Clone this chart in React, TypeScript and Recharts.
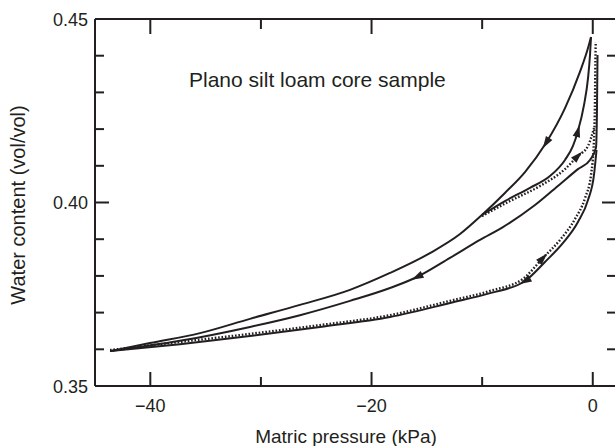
import React from "react";
import { LineChart, Line, XAxis, YAxis } from "recharts";

type Pt = [number, number]; // [matric pressure kPa, water content vol/vol]

// measured curves (solid)
const mainDrying: Pt[] = [
  [-43.64, 0.3595], [-40.03, 0.3617], [-35.51, 0.3644], [-30.99, 0.3683],
  [-26.47, 0.3721], [-21.95, 0.3762], [-18.33, 0.3808], [-14.72, 0.3862],
  [-12.0, 0.3914], [-10.02, 0.3966], [-7.94, 0.4026], [-6.13, 0.4083],
  [-4.23, 0.4162], [-2.51, 0.4257], [-1.16, 0.4356], [-0.43, 0.4421],
  [-0.16, 0.4451],
];
const scanWetting: Pt[] = [
  [-10.02, 0.3966], [-7.94, 0.4004], [-5.68, 0.404], [-3.87, 0.4072],
  [-2.51, 0.4116], [-1.79, 0.4154], [-1.34, 0.4195], [-0.79, 0.4266],
  [-0.43, 0.4339], [-0.25, 0.4402], [-0.16, 0.4451],
];
const scanDrying: Pt[] = [
  [-43.64, 0.3595], [-37.32, 0.3623], [-30.99, 0.3661], [-26.47, 0.3693],
  [-21.95, 0.3732], [-18.33, 0.3767], [-15.89, 0.3797], [-12.91, 0.3849],
  [-10.2, 0.3898], [-8.12, 0.3933], [-5.22, 0.3993], [-2.96, 0.405],
  [-1.34, 0.4091], [-0.25, 0.4116], [0.29, 0.4149], [0.38, 0.4252],
  [0.43, 0.4402],
];
const mainWetting: Pt[] = [
  [-43.64, 0.3595], [-37.32, 0.3614], [-30.99, 0.3636], [-24.66, 0.3661],
  [-18.33, 0.3688], [-12.91, 0.3726], [-9.29, 0.3753], [-6.13, 0.3786],
  [-4.32, 0.3838], [-2.69, 0.389], [-1.34, 0.3947], [-0.43, 0.4007],
  [0.11, 0.4075], [0.34, 0.4143],
];

// predicted curves (dotted)
const predScanWetting: Pt[] = [
  [-10.02, 0.3963], [-7.48, 0.4004], [-4.77, 0.4045], [-2.51, 0.4091],
  [-1.34, 0.4127], [-0.43, 0.4154], [0.11, 0.4203],
];
const predMainWetting: Pt[] = [
  [-43.64, 0.3598], [-37.32, 0.362], [-30.99, 0.3642], [-24.66, 0.3666],
  [-18.33, 0.3693], [-12.91, 0.3732], [-9.29, 0.3759], [-6.31, 0.3792],
  [-4.5, 0.3849], [-2.96, 0.3898], [-1.61, 0.3955], [-0.7, 0.4012],
  [-0.16, 0.4075], [0.11, 0.417], [0.2, 0.4279], [0.24, 0.4388], [0.27, 0.4437],
];

const xTicks = [-40, -30, -20, -10, 0];
const yTicks = [0.35, 0.36, 0.37, 0.38, 0.39, 0.4, 0.41, 0.42, 0.43, 0.44, 0.45];

const X_DOMAIN: [number, number] = [-45, 2.1];
const Y_DOMAIN: [number, number] = [0.35, 0.45];

const INK = "#231f20";
const FONT = "'Liberation Sans', Arial, Helvetica, sans-serif";
const W = 620;
const H = 446;
const LEFT_W = 95;
const BOTTOM_H = 60;
const MARGIN = { top: 18, right: 3, bottom: 0, left: 0 };
// plot area: left 95 .. right 616, top 19 .. bottom 386
const kx = (W - LEFT_W - 1 - MARGIN.right) / (X_DOMAIN[1] - X_DOMAIN[0]);
const ky = (H - MARGIN.top - 1 - BOTTOM_H) / (Y_DOMAIN[1] - Y_DOMAIN[0]);

const rows = (pts: Pt[]) => pts.map(([p, w]) => ({ p, w }));
const fmtX = (v: number) => (v < 0 ? `\u2212${Math.abs(v)}` : `${v}`);
const isMajorX = (v: number) => Math.round(v) % 20 === 0;
const isMajorY = (v: number) => Math.round(v * 100) % 5 === 0;

// arrowhead at point `at`, pointing forward (dir 1) or backward (dir -1) along the curve
function arrowDot(curve: Pt[], at: number, dir: number) {
  return (props: any) => {
    const { cx, cy, index } = props;
    if (index !== at) return <g key={`n-${index}`} />;
    const a = curve[Math.max(0, at - 1)];
    const b = curve[Math.min(curve.length - 1, at + 1)];
    const dx = (b[0] - a[0]) * kx * dir;
    const dy = -(b[1] - a[1]) * ky * dir;
    const ang = (Math.atan2(dy, dx) * 180) / Math.PI;
    return (
      <polygon
        key={`a-${index}`}
        points="6,0 -6,-3.8 -6,3.8"
        transform={`translate(${cx},${cy}) rotate(${ang})`}
        fill={INK}
      />
    );
  };
}

function BottomTick(props: any) {
  const { x, y, payload } = props;
  const v = payload.value;
  const major = isMajorX(v);
  return (
    <g>
      <line x1={x} x2={x} y1={y} y2={y - (major ? 14 : 9)} stroke={INK} strokeWidth={2} />
      {major && (
        <text x={x} y={y + 26} textAnchor="middle" fontSize={18} fill={INK} fontFamily={FONT}>
          {fmtX(v)}
        </text>
      )}
    </g>
  );
}

function TopTick(props: any) {
  const { x, y, payload } = props;
  const major = isMajorX(payload.value);
  return <line x1={x} x2={x} y1={y} y2={y + (major ? 15 : 10)} stroke={INK} strokeWidth={2} />;
}

function LeftTick(props: any) {
  const { x, y, payload } = props;
  const v = payload.value;
  const major = isMajorY(v);
  return (
    <g>
      <line x1={x} x2={x + (major ? 14 : 9)} y1={y} y2={y} stroke={INK} strokeWidth={2} />
      {major && (
        <text x={x - 7} y={y + 6.5} textAnchor="end" fontSize={18} fill={INK} fontFamily={FONT}>
          {v.toFixed(2)}
        </text>
      )}
    </g>
  );
}

function RightTick(props: any) {
  const { x, y, payload } = props;
  const major = isMajorY(payload.value);
  return <line x1={x} x2={x - (major ? 14 : 9)} y1={y} y2={y} stroke={INK} strokeWidth={2} />;
}

export default function App() {
  const solid = { stroke: INK, strokeWidth: 2, isAnimationActive: false, type: "monotone" as const };
  const dotted = { ...solid, strokeWidth: 2.4, strokeDasharray: "1.6 1.8" };
  const axisCommon = {
    type: "number" as const,
    allowDataOverflow: true,
    interval: 0 as const,
    tickSize: 0,
    tickMargin: 0,
    tickLine: false,
    axisLine: { stroke: INK, strokeWidth: 2 },
  };
  return (
    <div
      style={{
        position: "absolute",
        left: 0,
        top: 0,
        width: 615,
        height: 446,
        overflow: "hidden",
        background: "#fff",
      }}
    >
      <LineChart width={W} height={H} margin={MARGIN}>
        <XAxis {...axisCommon} dataKey="p" domain={X_DOMAIN} ticks={xTicks} height={BOTTOM_H} tick={<BottomTick />} />
        <XAxis
          {...axisCommon}
          xAxisId="top"
          orientation="top"
          dataKey="p"
          domain={X_DOMAIN}
          ticks={xTicks}
          height={1}
          tick={<TopTick />}
        />
        <YAxis {...axisCommon} domain={Y_DOMAIN} ticks={yTicks} width={LEFT_W} tick={<LeftTick />} />
        <YAxis
          {...axisCommon}
          yAxisId="right"
          orientation="right"
          domain={Y_DOMAIN}
          ticks={yTicks}
          width={1}
          tick={<RightTick />}
        />

        <Line {...solid} data={rows(mainWetting)} dataKey="w" dot={arrowDot(mainWetting, 7, -1)} />
        <Line {...dotted} data={rows(predMainWetting)} dataKey="w" dot={arrowDot(predMainWetting, 8, 1)} />
        <Line {...solid} data={rows(scanDrying)} dataKey="w" dot={arrowDot(scanDrying, 6, -1)} />
        <Line {...dotted} data={rows(predScanWetting)} dataKey="w" dot={arrowDot(predScanWetting, 4, 1)} />
        <Line {...solid} data={rows(scanWetting)} dataKey="w" dot={arrowDot(scanWetting, 6, 1)} />
        <Line {...solid} data={rows(mainDrying)} dataKey="w" dot={arrowDot(mainDrying, 12, -1)} />

        <text x={189} y={87} fontSize={21} fill={INK} fontFamily={FONT}>
          Plano silt loam core sample
        </text>
        <text x={346} y={443} textAnchor="middle" fontSize={19} fill={INK} fontFamily={FONT}>
          Matric pressure (kPa)
        </text>
        <text
          x={0}
          y={0}
          transform="translate(25,205) rotate(-90)"
          textAnchor="middle"
          fontSize={20}
          fill={INK}
          fontFamily={FONT}
        >
          Water content (vol/vol)
        </text>
      </LineChart>
    </div>
  );
}
